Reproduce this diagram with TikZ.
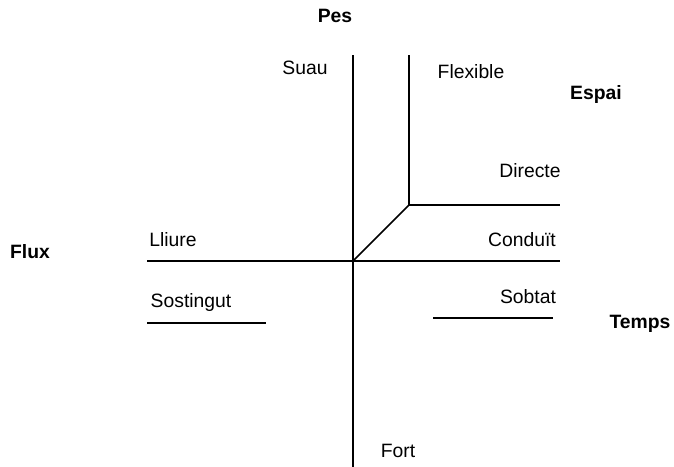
\documentclass[tikz,border=0pt]{standalone}
\usepackage{fontspec}
\setmainfont{Liberation Sans}
\usetikzlibrary{calc}
\tikzset{
% Two text styles for the axes: plain quality labels and bold factor labels
quality/.style={inner sep=0pt,font=\fontsize{11}{13}\selectfont},
factor/.style={inner sep=0pt,font=\fontsize{11}{13}\selectfont\bfseries},
axis line/.style={line width=0.9pt}
}
\begin{document}
\begin{tikzpicture}[x=0.02cm,y=-0.02cm]
      \useasboundingbox (0,0) rectangle (674,467);
      % Points of the cross
      \coordinate (o) at (353,261);
      \coordinate (otop) at (353,55);
      \coordinate (obot) at (353,467);
      \coordinate (oleft) at (147,261);
      \coordinate (oright) at (560,261);
      \coordinate (c) at (409,205);
      \coordinate (ctop) at (409,55);
      \coordinate (cright) at (560,205);
      \coordinate (sost1) at (147,323);
      \coordinate (sost2) at (266,323);
      \coordinate (sob1) at (433,318);
      \coordinate (sob2) at (553,318);
      % Lines
      \draw[axis line] (otop) -- (obot);
      \draw[axis line] (oleft) -- (oright);
      \draw[axis line] (o) -- (c) -- (ctop);
      \draw[axis line] (c) -- (cright);
      \draw[axis line] (sost1) -- (sost2);
      \draw[axis line] (sob1) -- (sob2);
      % Factors
      \node(pes)[factor] at (335,16) {Pes};
      \node(espai)[factor] at (596,94) {Espai};
      \node(flux)[factor] at (30,252) {Flux};
      \node(temps)[factor] at (640,324) {Temps};
      % Qualities
      \node(suau)[quality] at (305,68) {Suau};
      \node(flexible)[quality] at (471,72) {Flexible};
      \node(directe)[quality] at (530,171) {Directe};
      \node(lliure)[quality] at (173,240) {Lliure};
      \node(conduit)[quality] at (522,240) {Conduït};
      \node(sostingut)[quality] at (191,302) {Sostingut};
      \node(sobtat)[quality] at (528,297) {Sobtat};
      \node(fort)[quality] at (398,451) {Fort};
    \end{tikzpicture}
\end{document}
